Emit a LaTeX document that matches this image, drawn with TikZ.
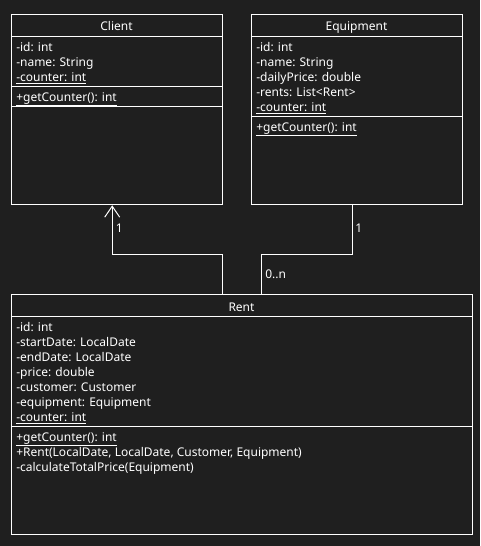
\documentclass[tikz,border=0pt]{standalone}
\usepackage{fontspec}
\setmainfont{Noto Sans}
\usetikzlibrary{arrows.meta,calc}
\definecolor{bg}{RGB}{31,31,31}
\begin{document}
\begin{tikzpicture}[x=0.75pt,y=-0.75pt,
  line/.style={draw=white,line width=0.75pt},
  umlbox/.style={line,rectangle,inner sep=0pt,anchor=north west},
  row/.style={text=white,anchor=base west,inner sep=0pt,font=\fontsize{9pt}{11pt}\selectfont},
  ttl/.style={text=white,anchor=base,inner sep=0pt,font=\fontsize{9pt}{11pt}\selectfont},
  lbl/.style={text=white,anchor=base west,inner sep=0pt,font=\fontsize{9pt}{11pt}\selectfont},
  assoc/.style={line,line join=miter}]
\fill[bg] (0,0) rectangle (480,546);
\useasboundingbox (0,0) rectangle (480,546);

% Client
\node[umlbox,minimum width={210.4*0.75pt},minimum height={190*0.75pt}] (client) at (11.3,14.3) {};
\draw[line] ($(client.north west)+(0,22)$) -- ($(client.north east)+(0,22)$);
\draw[line] ($(client.north west)+(0,72)$) -- ($(client.north east)+(0,72)$);
\draw[line] ($(client.north west)+(0,92)$) -- ($(client.north east)+(0,92)$);
\node[ttl] (clientT) at (116.5,30.7) {Client};
\node[row] (c1) at (16,51) {-id: int};
\node[row] (c2) at (16,66) {-name: String};
\node[row] (c3) at (16,81) {\underline{-counter: int}};
\node[row] (c4) at (16,101) {\underline{+getCounter(): int}};

% Equipment
\node[umlbox,minimum width={210.4*0.75pt},minimum height={190*0.75pt}] (equip) at (251.3,14.3) {};
\draw[line] ($(equip.north west)+(0,22)$) -- ($(equip.north east)+(0,22)$);
\draw[line] ($(equip.north west)+(0,102)$) -- ($(equip.north east)+(0,102)$);
\node[ttl] (equipT) at (356.5,30.7) {Equipment};
\node[row] (e1) at (256,51) {-id: int};
\node[row] (e2) at (256,66) {-name: String};
\node[row] (e3) at (256,81) {-dailyPrice: double};
\node[row] (e4) at (256,96) {-rents: List<Rent>};
\node[row] (e5) at (256,111) {\underline{-counter: int}};
\node[row] (e6) at (256,131) {\underline{+getCounter(): int}};

% Rent
\node[umlbox,minimum width={460.4*0.75pt},minimum height={240*0.75pt}] (rent) at (11.3,294.3) {};
\draw[line] ($(rent.north west)+(0,22)$) -- ($(rent.north east)+(0,22)$);
\draw[line] ($(rent.north west)+(0,132)$) -- ($(rent.north east)+(0,132)$);
\node[ttl] (rentT) at (241.5,311) {Rent};
\node[row] (r1) at (16,331) {-id: int};
\node[row] (r2) at (16,346) {-startDate: LocalDate};
\node[row] (r3) at (16,361) {-endDate: LocalDate};
\node[row] (r4) at (16,376) {-price: double};
\node[row] (r5) at (16,391) {-customer: Customer};
\node[row] (r6) at (16,406) {-equipment: Equipment};
\node[row] (r7) at (16,421) {\underline{-counter: int}};
\node[row] (r8) at (16,441) {\underline{+getCounter(): int}};
\node[row] (r9) at (16,456) {+Rent(LocalDate, LocalDate, Customer, Equipment)};
\node[row] (r10) at (16,471) {-calculateTotalPrice(Equipment)};

% connectors
\coordinate (rA) at ($(rent.north)+(-19.8,0)$);
\coordinate (rB) at ($(rent.north)+(19.8,0)$);
\coordinate (cA) at ($(client.south)+(-4.8,0)$);
\coordinate (eA) at ($(equip.south)+(-4.8,0)$);
\draw[assoc,-{Straight Barb[length=8.25pt,width=11.25pt,line width=0.75pt]}] (rA) -- ++(0,-40) -| (cA);
\draw[assoc] (rB) -- ++(0,-40) -| (eA);
\node[lbl] (m1) at (115.5,232) {1};
\node[lbl] (m2) at (355,232) {1};
\node[lbl] (m3) at (265,278) {0..n};
\end{tikzpicture}
\end{document}
